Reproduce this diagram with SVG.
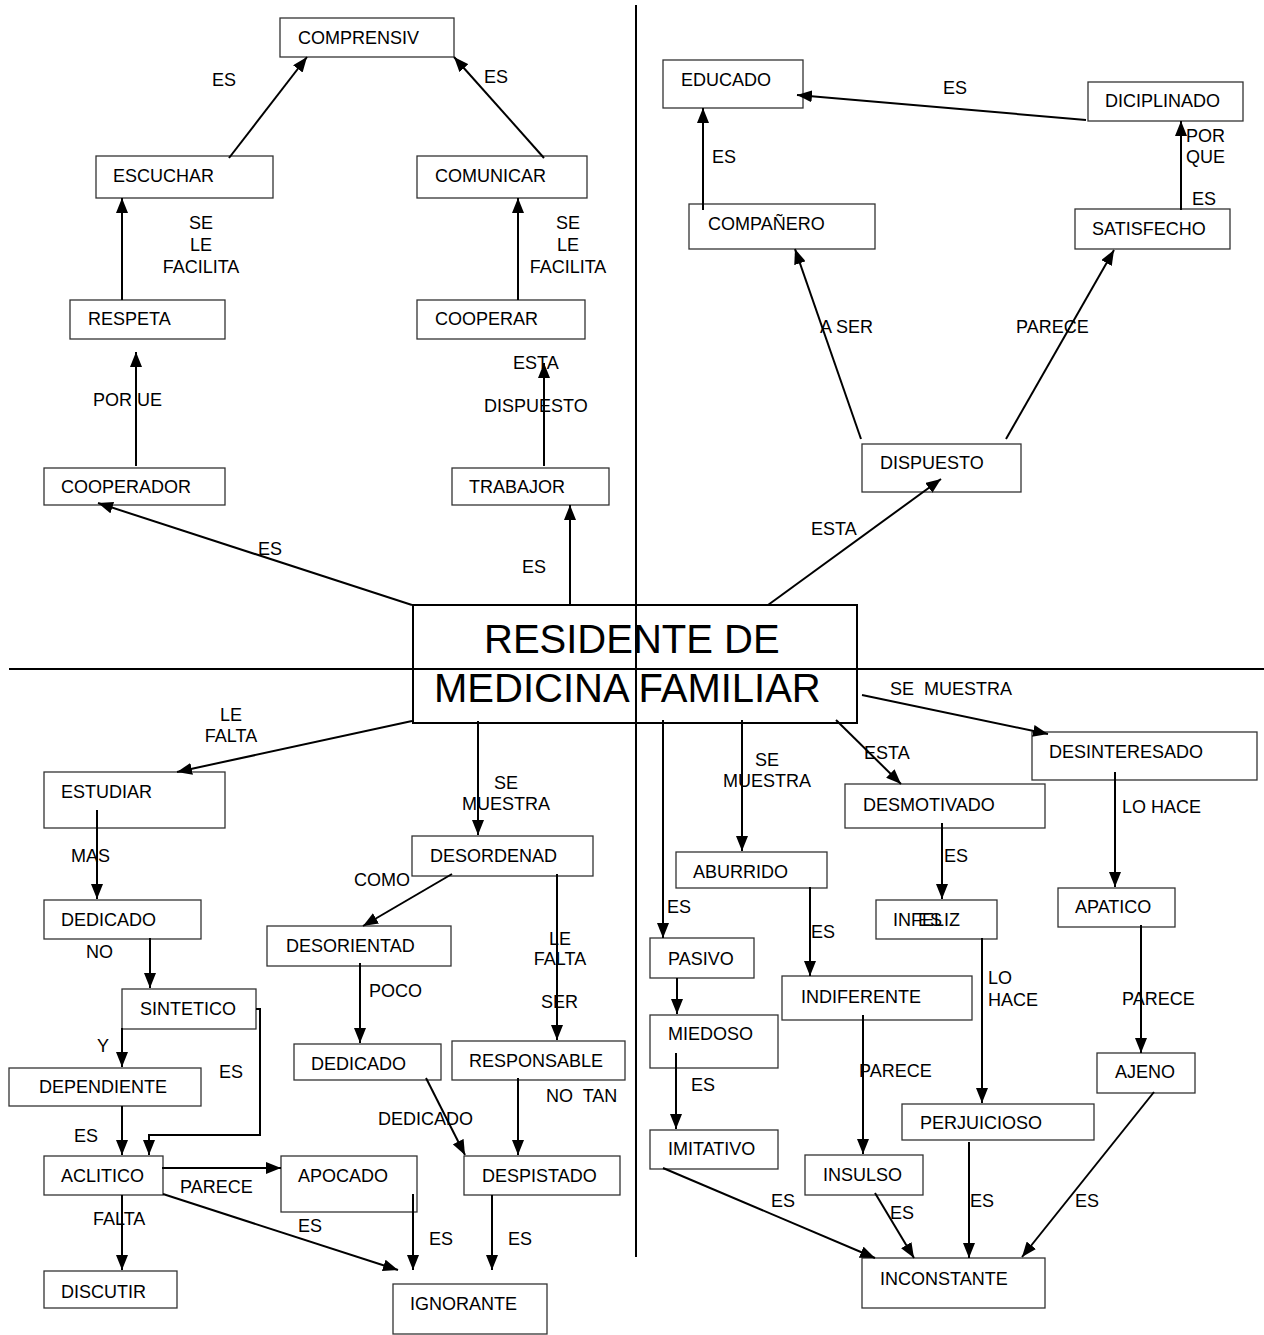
<svg xmlns="http://www.w3.org/2000/svg" width="1264" height="1335" viewBox="0 0 1264 1335">
<style>
.n rect{fill:#fff;stroke:#333;stroke-width:1.3}
text{font-family:"Liberation Sans",Arial,sans-serif;font-size:18px;fill:#000}
.c line,.c polyline{stroke:#000;stroke-width:2;fill:none;marker-end:url(#ah)}
.big{font-size:40px}
.m{text-anchor:middle}
.pre{white-space:pre}
.div{stroke:#000;stroke-width:2}
</style>
<defs>
<marker id="ah" markerUnits="userSpaceOnUse" markerWidth="15" markerHeight="12" refX="15" refY="6" orient="auto">
<path d="M0,0 L15,6 L0,12 z" fill="#000"/>
</marker>
</defs>
<rect width="1264" height="1335" fill="#fff"/>

<g id="center" class="n"><rect x="413" y="605" width="444" height="118" style="stroke:#000;stroke-width:2"/><text class="big" x="484" y="653">RESIDENTE DE</text><text class="big" x="434" y="702">MEDICINA FAMILIAR</text></g>

<g id="comprensiv" class="n"><rect x="280" y="18" width="174" height="39"/><text x="298" y="44">COMPRENSIV</text></g>
<g id="escuchar" class="n"><rect x="96" y="156" width="177" height="42"/><text x="113" y="182">ESCUCHAR</text></g>
<g id="comunicar" class="n"><rect x="417" y="156" width="170" height="42"/><text x="435" y="182">COMUNICAR</text></g>
<g id="respeta" class="n"><rect x="70" y="300" width="155" height="39"/><text x="88" y="325">RESPETA</text></g>
<g id="cooperar" class="n"><rect x="417" y="300" width="168" height="39"/><text x="435" y="325">COOPERAR</text></g>
<g id="cooperador" class="n"><rect x="44" y="468" width="181" height="37"/><text x="61" y="493">COOPERADOR</text></g>
<g id="trabajor" class="n"><rect x="452" y="468" width="157" height="37"/><text x="469" y="493">TRABAJOR</text></g>

<g id="educado" class="n"><rect x="663" y="60" width="140" height="48"/><text x="681" y="86">EDUCADO</text></g>
<g id="diciplinado" class="n"><rect x="1088" y="82" width="155" height="39"/><text x="1105" y="107">DICIPLINADO</text></g>
<g id="companero" class="n"><rect x="689" y="204" width="186" height="45"/><text x="708" y="230">COMPAÑERO</text></g>
<g id="satisfecho" class="n"><rect x="1075" y="209" width="155" height="40"/><text x="1092" y="235">SATISFECHO</text></g>
<g id="dispuesto" class="n"><rect x="862" y="444" width="159" height="48"/><text x="880" y="469">DISPUESTO</text></g>

<g id="estudiar" class="n"><rect x="44" y="772" width="181" height="56"/><text x="61" y="798">ESTUDIAR</text></g>
<g id="dedicado1" class="n"><rect x="44" y="900" width="157" height="39"/><text x="61" y="926">DEDICADO</text></g>
<g id="sintetico" class="n"><rect x="122" y="989" width="134" height="40"/><text x="140" y="1015">SINTETICO</text></g>
<g id="dependiente" class="n"><rect x="9" y="1068" width="192" height="38"/><text x="39" y="1093">DEPENDIENTE</text></g>
<g id="aclitico" class="n"><rect x="44" y="1156" width="119" height="39"/><text x="61" y="1182">ACLITICO</text></g>
<g id="apocado" class="n"><rect x="281" y="1156" width="136" height="56"/><text x="298" y="1182">APOCADO</text></g>
<g id="discutir" class="n"><rect x="44" y="1271" width="133" height="37"/><text x="61" y="1298">DISCUTIR</text></g>
<g id="ignorante" class="n"><rect x="393" y="1284" width="154" height="50"/><text x="410" y="1310">IGNORANTE</text></g>
<g id="desordenad" class="n"><rect x="412" y="836" width="181" height="40"/><text x="430" y="862">DESORDENAD</text></g>
<g id="desorientad" class="n"><rect x="267" y="926" width="184" height="40"/><text x="286" y="952">DESORIENTAD</text></g>
<g id="dedicado2" class="n"><rect x="294" y="1044" width="147" height="36"/><text x="311" y="1070">DEDICADO</text></g>
<g id="responsable" class="n"><rect x="452" y="1041" width="173" height="39"/><text x="469" y="1067">RESPONSABLE</text></g>
<g id="despistado" class="n"><rect x="464" y="1156" width="156" height="39"/><text x="482" y="1182">DESPISTADO</text></g>

<g id="desinteresado" class="n"><rect x="1032" y="732" width="225" height="48"/><text x="1049" y="758">DESINTERESADO</text></g>
<g id="desmotivado" class="n"><rect x="845" y="784" width="200" height="44"/><text x="863" y="811">DESMOTIVADO</text></g>
<g id="aburrido" class="n"><rect x="676" y="852" width="151" height="36"/><text x="693" y="878">ABURRIDO</text></g>
<g id="pasivo" class="n"><rect x="650" y="938" width="104" height="40"/><text x="668" y="965">PASIVO</text></g>
<g id="infeliz" class="n"><rect x="876" y="900" width="121" height="39"/><text x="893" y="926">INFELIZ</text><text x="918" y="926">ES</text></g>
<g id="apatico" class="n"><rect x="1058" y="888" width="117" height="39"/><text x="1075" y="913">APATICO</text></g>
<g id="indiferente" class="n"><rect x="782" y="976" width="190" height="44"/><text x="801" y="1003">INDIFERENTE</text></g>
<g id="miedoso" class="n"><rect x="650" y="1015" width="128" height="53"/><text x="668" y="1040">MIEDOSO</text></g>
<g id="imitativo" class="n"><rect x="650" y="1130" width="128" height="39"/><text x="668" y="1155">IMITATIVO</text></g>
<g id="insulso" class="n"><rect x="805" y="1155" width="118" height="40"/><text x="823" y="1181">INSULSO</text></g>
<g id="perjuicioso" class="n"><rect x="902" y="1104" width="192" height="36"/><text x="920" y="1129">PERJUICIOSO</text></g>
<g id="ajeno" class="n"><rect x="1097" y="1053" width="98" height="40"/><text x="1115" y="1078">AJENO</text></g>
<g id="inconstante" class="n"><rect x="862" y="1258" width="183" height="50"/><text x="880" y="1285">INCONSTANTE</text></g>

<g id="labels">
<text x="212" y="86">ES</text>
<text x="484" y="83">ES</text>
<text class="m" x="201" y="229">SE</text><text class="m" x="201" y="251">LE</text><text class="m" x="201" y="273">FACILITA</text>
<text class="m" x="568" y="229">SE</text><text class="m" x="568" y="251">LE</text><text class="m" x="568" y="273">FACILITA</text>
<text x="93" y="406">POR UE</text>
<text x="513" y="369">ESTA</text>
<text x="484" y="412">DISPUESTO</text>
<text x="258" y="555">ES</text>
<text x="522" y="573">ES</text>
<text x="943" y="94">ES</text>
<text x="712" y="163">ES</text>
<text x="1186" y="142">POR</text><text x="1186" y="163">QUE</text>
<text x="1192" y="205">ES</text>
<text x="820" y="333">A SER</text>
<text x="1016" y="333">PARECE</text>
<text x="811" y="535">ESTA</text>
<text class="m" x="231" y="721">LE</text><text class="m" x="231" y="742">FALTA</text>
<text x="71" y="862">MAS</text>
<text x="86" y="958">NO</text>
<text x="97" y="1052">Y</text>
<text x="219" y="1078">ES</text>
<text x="74" y="1142">ES</text>
<text x="180" y="1193">PARECE</text>
<text x="93" y="1225">FALTA</text>
<text x="298" y="1232">ES</text>
<text x="429" y="1245">ES</text>
<text x="508" y="1245">ES</text>
<text class="m" x="506" y="789">SE</text><text class="m" x="506" y="810">MUESTRA</text>
<text x="354" y="886">COMO</text>
<text class="m" x="560" y="945">LE</text><text class="m" x="560" y="965">FALTA</text>
<text x="541" y="1008">SER</text>
<text x="369" y="997">POCO</text>
<text class="pre" x="546" y="1102">NO  TAN</text>
<text x="378" y="1125">DEDICADO</text>
<text class="pre" x="890" y="695">SE  MUESTRA</text>
<text x="864" y="759">ESTA</text>
<text class="m" x="767" y="766">SE</text><text class="m" x="767" y="787">MUESTRA</text>
<text x="667" y="913">ES</text>
<text x="811" y="938">ES</text>
<text x="944" y="862">ES</text>
<text x="988" y="984">LO</text><text x="988" y="1006">HACE</text>
<text x="1122" y="813">LO HACE</text>
<text x="1122" y="1005">PARECE</text>
<text x="691" y="1091">ES</text>
<text x="859" y="1077">PARECE</text>
<text x="771" y="1207">ES</text>
<text x="890" y="1219">ES</text>
<text x="970" y="1207">ES</text>
<text x="1075" y="1207">ES</text>
</g>

<g id="connectors" class="c">
<line x1="229" y1="158" x2="307" y2="57"/>
<line x1="544" y1="158" x2="454" y2="57"/>
<line x1="122" y1="300" x2="122" y2="198"/>
<line x1="518" y1="300" x2="518" y2="198"/>
<line x1="136" y1="466" x2="136" y2="352"/>
<line x1="544" y1="466" x2="544" y2="363"/>
<line x1="412" y1="605" x2="98" y2="503"/>
<line x1="570" y1="605" x2="570" y2="505"/>
<line x1="1086" y1="120" x2="797" y2="95"/>
<line x1="703" y1="210" x2="703" y2="108"/>
<line x1="1181" y1="210" x2="1181" y2="121"/>
<line x1="861" y1="439" x2="795" y2="249"/>
<line x1="1006" y1="439" x2="1114" y2="250"/>
<line x1="768" y1="605" x2="941" y2="479"/>
<line x1="412" y1="721" x2="177" y2="772"/>
<line x1="97" y1="810" x2="97" y2="899"/>
<line x1="150" y1="938" x2="150" y2="988"/>
<line x1="122" y1="1028" x2="122" y2="1067"/>
<polyline points="256,1009 260,1009 260,1135 149,1135 149,1155"/>
<line x1="122" y1="1106" x2="122" y2="1155"/>
<line x1="162" y1="1168" x2="281" y2="1168"/>
<line x1="122" y1="1195" x2="122" y2="1270"/>
<line x1="163" y1="1194" x2="398" y2="1270"/>
<line x1="413" y1="1194" x2="413" y2="1270"/>
<line x1="478" y1="721" x2="478" y2="835"/>
<line x1="452" y1="874" x2="363" y2="926"/>
<line x1="557" y1="874" x2="557" y2="1040"/>
<line x1="360" y1="963" x2="360" y2="1043"/>
<line x1="426" y1="1078" x2="465" y2="1155"/>
<line x1="518" y1="1078" x2="518" y2="1155"/>
<line x1="492" y1="1195" x2="492" y2="1270"/>
<line x1="862" y1="695" x2="1048" y2="734"/>
<line x1="836" y1="720" x2="901" y2="784"/>
<line x1="742" y1="720" x2="742" y2="851"/>
<line x1="663" y1="720" x2="663" y2="938"/>
<line x1="677" y1="978" x2="677" y2="1014"/>
<line x1="810" y1="887" x2="810" y2="976"/>
<line x1="942" y1="823" x2="942" y2="899"/>
<line x1="982" y1="938" x2="982" y2="1103"/>
<line x1="1115" y1="772" x2="1115" y2="887"/>
<line x1="1141" y1="925" x2="1141" y2="1053"/>
<line x1="676" y1="1053" x2="676" y2="1129"/>
<line x1="663" y1="1168" x2="875" y2="1258"/>
<line x1="863" y1="1015" x2="863" y2="1154"/>
<line x1="875" y1="1193" x2="914" y2="1258"/>
<line x1="969" y1="1142" x2="969" y2="1258"/>
<line x1="1154" y1="1092" x2="1022" y2="1257"/>
</g>

<g id="dividers">
<line class="div" x1="9" y1="669" x2="1264" y2="669"/>
<line class="div" x1="636" y1="5" x2="636" y2="1257"/>
</g>
</svg>
